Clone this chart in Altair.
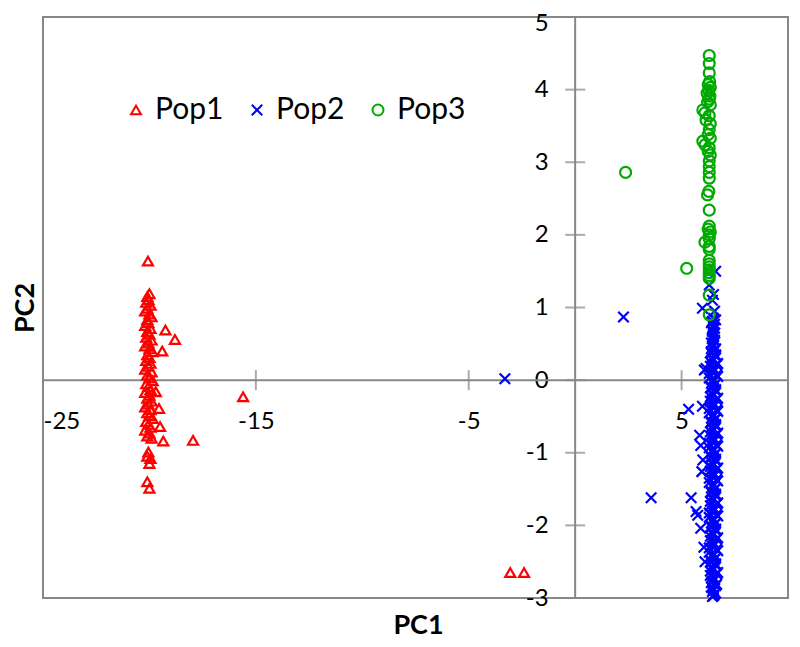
import altair as alt
import pandas as pd

# ---------------- data ----------------
pop_names = ["Pop1", "Pop2", "Pop3"]

pop1 = [
    (-20.07, 1.64), (-20.0, 1.19), (-20.1, 1.15), (-20.05, 1.11), (-20.15, 1.07),
    (-19.95, 1.03), (-20.1, 0.99), (-20.2, 0.95), (-20.0, 0.91), (-19.9, 0.87),
    (-20.1, 0.83), (-20.05, 0.79), (-20.2, 0.75), (-19.95, 0.71), (-20.1, 0.67),
    (-20.0, 0.63), (-20.15, 0.59), (-19.9, 0.55), (-20.05, 0.51), (-20.2, 0.47),
    (-20.0, 0.43), (-19.85, 0.39), (-20.1, 0.35), (-20.0, 0.31), (-20.15, 0.27),
    (-19.95, 0.23), (-20.05, 0.19), (-20.2, 0.15), (-19.9, 0.11), (-20.1, 0.07),
    (-20.0, 0.03), (-19.85, -0.01), (-20.15, -0.05), (-20.05, -0.09), (-19.95, -0.13),
    (-20.2, -0.17), (-20.0, -0.21), (-20.1, -0.25), (-19.9, -0.29), (-20.05, -0.33),
    (-20.2, -0.37), (-19.95, -0.41), (-20.1, -0.45), (-20.0, -0.49), (-19.85, -0.53),
    (-20.15, -0.57), (-20.05, -0.61), (-19.95, -0.65), (-20.2, -0.69), (-20.0, -0.73),
    (-20.1, -0.77), (-19.9, -0.80), (-20.05, -0.99), (-20.1, -1.05), (-19.95, -1.08),
    (-20.0, -1.15), (-20.1, -1.40), (-20.0, -1.49),
    (-19.25, 0.69), (-18.8, 0.56), (-19.4, 0.40), (-19.7, -0.16), (-19.55, -0.39),
    (-19.5, -0.64), (-19.35, -0.84), (-17.95, -0.83), (-15.6, -0.23),
    (-3.05, -2.65), (-2.4, -2.65),
]

pop2 = [
    (-3.3, 0.02), (2.27, 0.87), (3.57, -1.62), (5.45, -1.62), (5.33, -0.40),
    (5.98, -0.36), (5.76, -1.86), (5.68, -1.81), (5.9, -2.04), (6.6, 1.50),
    (6.3, 1.31), (5.98, 0.99), (6.15, 0.16), (6.07, 0.14), (5.85, -0.76),
    (5.9, -0.90), (6.0, -1.10), (5.95, -1.26), (6.05, -2.30), (6.1, -2.50),
    (6.5, 1.18), (6.45, 1.10), (6.55, 0.95),
    (6.5, 0.85), (6.45, 0.81), (6.55, 0.77), (6.5, 0.73), (6.45, 0.69),
    (6.55, 0.65), (6.5, 0.61), (6.45, 0.57), (6.55, 0.53), (6.5, 0.49),
    (6.45, 0.45), (6.55, 0.41), (6.4, 0.37), (6.6, 0.33), (6.5, 0.29),
    (6.35, 0.25), (6.65, 0.21), (6.45, 0.17), (6.55, 0.13), (6.3, 0.09),
    (6.7, 0.05), (6.5, 0.01), (6.45, -0.03), (6.55, -0.07), (6.4, -0.11),
    (6.6, -0.15), (6.5, -0.19), (6.35, -0.23), (6.65, -0.27), (6.45, -0.31),
    (6.55, -0.35), (6.3, -0.39), (6.7, -0.43), (6.5, -0.47), (6.45, -0.51),
    (6.55, -0.55), (6.4, -0.59), (6.6, -0.63), (6.5, -0.67), (6.35, -0.71),
    (6.65, -0.75), (6.45, -0.79), (6.55, -0.83), (6.3, -0.87), (6.7, -0.91),
    (6.5, -0.95), (6.45, -0.99), (6.55, -1.03), (6.4, -1.07), (6.6, -1.11),
    (6.5, -1.15), (6.35, -1.19), (6.65, -1.23), (6.45, -1.27), (6.55, -1.31),
    (6.3, -1.35), (6.7, -1.39), (6.5, -1.43), (6.45, -1.47), (6.55, -1.51),
    (6.4, -1.55), (6.6, -1.59), (6.5, -1.63), (6.35, -1.67), (6.65, -1.71),
    (6.45, -1.75), (6.55, -1.79), (6.3, -1.83), (6.7, -1.87), (6.5, -1.91),
    (6.45, -1.95), (6.55, -1.99), (6.4, -2.03), (6.6, -2.07), (6.5, -2.11),
    (6.35, -2.15), (6.65, -2.19), (6.45, -2.23), (6.55, -2.27), (6.3, -2.31),
    (6.7, -2.35), (6.5, -2.39), (6.45, -2.43), (6.55, -2.47), (6.4, -2.51),
    (6.6, -2.55), (6.5, -2.59), (6.35, -2.63), (6.65, -2.67), (6.45, -2.71),
    (6.55, -2.75), (6.4, -2.79), (6.6, -2.83), (6.5, -2.87), (6.45, -2.91),
    (6.55, -2.95), (6.45, -2.98),
    (6.6, 0.83), (6.4, 0.79), (6.5, 0.75), (6.55, 0.71), (6.45, 0.67), (6.5, 0.63),
    (6.45, 0.59), (6.55, 0.55), (6.4, 0.51), (6.5, 0.47), (6.6, 0.43), (6.4, 0.39),
    (6.6, 0.35), (6.4, 0.31), (6.5, 0.27), (6.7, 0.23), (6.35, 0.19), (6.55, 0.15),
    (6.45, 0.11), (6.65, 0.07), (6.3, 0.03), (6.5, -0.01), (6.6, -0.05), (6.4, -0.09),
    (6.6, -0.13), (6.4, -0.17), (6.5, -0.21), (6.7, -0.25), (6.35, -0.29), (6.55, -0.33),
    (6.45, -0.37), (6.65, -0.41), (6.3, -0.45), (6.5, -0.49), (6.6, -0.53), (6.4, -0.57),
    (6.6, -0.61), (6.4, -0.65), (6.5, -0.69), (6.7, -0.73), (6.35, -0.77), (6.55, -0.81),
    (6.45, -0.85), (6.65, -0.89), (6.3, -0.93), (6.5, -0.97), (6.6, -1.01), (6.4, -1.05),
    (6.6, -1.09), (6.4, -1.13), (6.5, -1.17), (6.7, -1.21), (6.35, -1.25), (6.55, -1.29),
    (6.45, -1.33), (6.65, -1.37), (6.3, -1.41), (6.5, -1.45), (6.6, -1.49), (6.4, -1.53),
    (6.6, -1.57), (6.4, -1.61), (6.5, -1.65), (6.7, -1.69), (6.35, -1.73), (6.55, -1.77),
    (6.45, -1.81), (6.65, -1.85), (6.3, -1.89), (6.5, -1.93), (6.6, -1.97), (6.4, -2.01),
    (6.6, -2.05), (6.4, -2.09), (6.5, -2.13), (6.7, -2.17), (6.35, -2.21), (6.55, -2.25),
    (6.45, -2.29), (6.65, -2.33), (6.3, -2.37), (6.5, -2.41), (6.6, -2.45), (6.4, -2.49),
    (6.6, -2.53), (6.4, -2.57), (6.5, -2.61), (6.7, -2.65), (6.35, -2.69), (6.55, -2.73),
    (6.45, -2.77), (6.65, -2.81), (6.4, -2.85), (6.5, -2.89), (6.6, -2.93), (6.5, -2.97),
]

pop3 = [
    (6.3, 4.47), (6.3, 4.36), (6.3, 4.23), (6.32, 4.11), (6.25, 4.07), (6.35, 4.03),
    (6.28, 3.99), (6.2, 3.95), (6.33, 3.91), (6.3, 3.87), (6.22, 3.83), (6.35, 3.79),
    (6.0, 3.72), (6.1, 3.68), (6.3, 3.64), (6.15, 3.58), (6.35, 3.53), (6.3, 3.45),
    (6.25, 3.38), (6.35, 3.33), (6.0, 3.29), (6.1, 3.24), (6.3, 3.20), (6.25, 3.15),
    (6.35, 3.10), (6.3, 3.02), (6.3, 2.94), (6.3, 2.86), (6.3, 2.78), (6.28, 2.60),
    (6.22, 2.55), (6.3, 2.34), (6.3, 2.12), (6.25, 2.08), (6.35, 2.04), (6.3, 2.00),
    (6.3, 1.95), (6.1, 1.90), (6.3, 1.84), (6.3, 1.80), (6.3, 1.65), (6.3, 1.60),
    (6.3, 1.56), (6.3, 1.52), (6.3, 1.48), (6.3, 1.44), (6.3, 1.40), (6.3, 1.17),
    (6.3, 0.90), (2.37, 2.86), (5.24, 1.54),
]

x_ticks = [-25, -15, -5, 5]
y_ticks = [5, 4, 3, 2, 1, 0, -1, -2, -3]
x_domain = [-25, 10]
y_domain = [-3, 5]

colors = ["#FF0000", "#0000FF", "#00AA00"]
shapes = ["triangle-up", "M-1,-1L1,1M-1,1L1,-1", "circle"]

# ---------------- build table ----------------
rows = []
for name, pts in zip(pop_names, [pop1, pop2, pop3]):
    for x, y in pts:
        rows.append({"PC1": x, "PC2": y, "pop": name})
df = pd.DataFrame(rows)

W, H = 745, 581
x0_px = W * (0 - x_domain[0]) / (x_domain[1] - x_domain[0])
y0_from_bottom = H * (0 - y_domain[0]) / (y_domain[1] - y_domain[0])

AX = "#878787"
FONT = "Lato"

xscale = alt.Scale(domain=x_domain, nice=False, zero=False)
yscale = alt.Scale(domain=y_domain, nice=False, zero=False)

points = alt.Chart(df).mark_point(filled=False, strokeWidth=2.2, opacity=1).encode(
    x=alt.X("PC1:Q", scale=xscale,
            axis=alt.Axis(values=x_ticks, grid=False, domain=False, ticks=False, tickSize=0,
                          labelExpr="datum.value + ''",
                          labelPadding=-(y0_from_bottom - 29), labelFont=FONT, labelFontSize=24,
                          labelColor="#000000", title="PC1", titleFont=FONT, titleFontSize=27,
                          titleFontWeight="bold", titleColor="#000000", titleX=375, titleY=27,
                          titleBaseline="middle", titleAlign="center")),
    y=alt.Y("PC2:Q", scale=yscale,
            axis=alt.Axis(values=y_ticks, grid=False, domain=False, ticks=False, tickSize=0,
                          labelExpr="datum.value + ''",
                          labelOffset={"condition": {"test": f"datum.value === {y_domain[1]}", "value": 6},
                                       "value": 0},
                          labelPadding=-(x0_px - 27), labelFont=FONT, labelFontSize=24,
                          labelColor="#000000", title="PC2", titleFont=FONT, titleFontSize=27,
                          titleFontWeight="bold", titleColor="#000000", titleX=-18, titleY=H / 2,
                          titleBaseline="middle", titleAlign="center", titleAngle=270)),
    color=alt.Color("pop:N", scale=alt.Scale(domain=pop_names, range=colors),
                    legend=alt.Legend(orient="none", legendX=78, legendY=78, direction="horizontal",
                                      title=None, labelFont=FONT, labelFontSize=30,
                                      labelColor="#000000", symbolSize=70, symbolStrokeWidth=2,
                                      columnPadding=18, labelOffset=4, padding=0)),
    shape=alt.Shape("pop:N", scale=alt.Scale(domain=pop_names, range=shapes)),
    size=alt.Size("pop:N", scale=alt.Scale(domain=pop_names, range=[100, 120, 90]), legend=None),
)

xline = alt.Chart(pd.DataFrame({"PC2": [0]})).mark_rule(color=AX, strokeWidth=2).encode(
    y=alt.Y("PC2:Q", scale=yscale))
yline = alt.Chart(pd.DataFrame({"PC1": [0]})).mark_rule(color=AX, strokeWidth=2).encode(
    x=alt.X("PC1:Q", scale=xscale))

xt = alt.Chart(pd.DataFrame({"PC1": x_ticks, "PC2": [0] * len(x_ticks)})).mark_tick(
    orient="vertical", size=20, thickness=2, color=AX).encode(
    x=alt.X("PC1:Q", scale=xscale), y=alt.Y("PC2:Q", scale=yscale))
yt = alt.Chart(pd.DataFrame({"PC2": y_ticks, "PC1": [0] * len(y_ticks)})).mark_tick(
    orient="horizontal", size=20, thickness=2, color=AX).encode(
    x=alt.X("PC1:Q", scale=xscale), y=alt.Y("PC2:Q", scale=yscale))

chart = alt.layer(xline, yline, xt, yt, points).properties(
    width=W, height=H,
    autosize=alt.AutoSizeParams(type="none"),
    padding={"left": 35, "top": 9, "right": 2, "bottom": 40},
    background="#FFFFFF",
).configure_view(stroke=AX, strokeWidth=2)

chart.save("out.html", embed_options={"renderer": "svg", "actions": False})
